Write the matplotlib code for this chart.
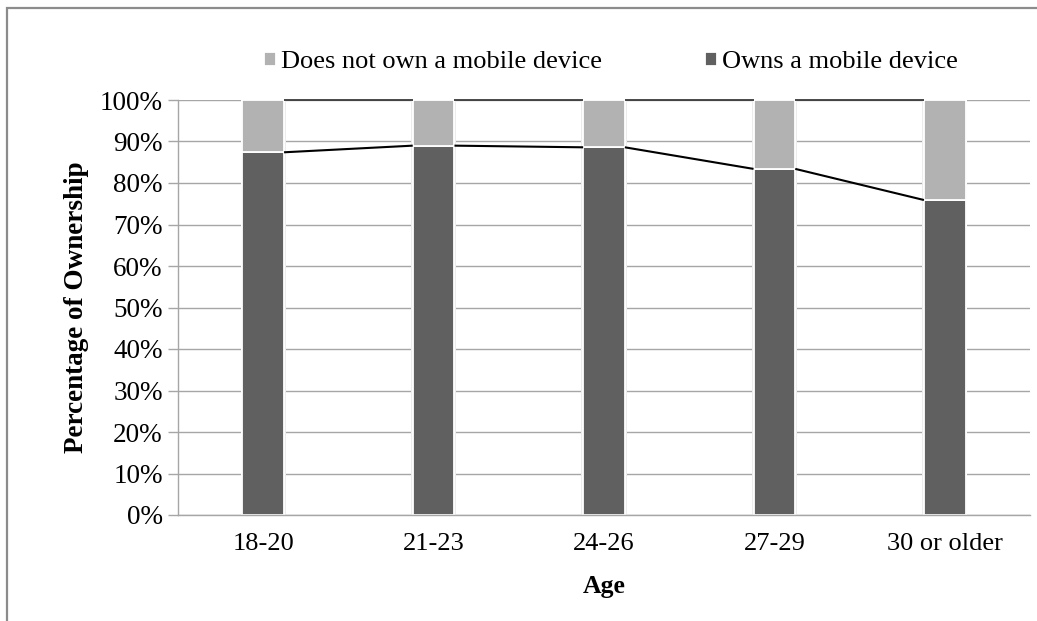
import matplotlib
matplotlib.use("Agg")
import matplotlib.pyplot as plt
from matplotlib.patches import Rectangle

# Survey data: share of respondents owning a mobile device, by age group
age_groups = ["18-20", "21-23", "24-26", "27-29", "30 or older"]
owns_pct = [87.4, 89.0, 88.6, 83.4, 75.9]
not_own_pct = [100 - v for v in owns_pct]
y_ticks = [0, 10, 20, 30, 40, 50, 60, 70, 80, 90, 100]

dark = "#606060"
light = "#b2b2b2"
grid_c = "#a6a6a6"
serif = ["Liberation Serif", "DejaVu Serif"]

fig = plt.figure(figsize=(10.37, 6.21), dpi=100)
fig.patch.set_facecolor("white")

# outer chart frame (runs off the right/bottom edges)
fig.patches.append(Rectangle((7 / 1037, -0.05), 1.2, 1 - 8 / 621 + 0.05,
                             transform=fig.transFigure, fill=False,
                             edgecolor="#8c8c8c", linewidth=1.6, zorder=0))

ax = fig.add_axes([178 / 1037, 1 - 515 / 621, (1030 - 178) / 1037, (515 - 100) / 621])
x = list(range(len(age_groups)))
width = 0.245

# faint halo behind each bar
ax.bar(x, [100] * len(x), width=width + 0.02, color="#ececec", zorder=1.5, linewidth=0)
ax.bar(x, owns_pct, width=width, color=dark, edgecolor="white", linewidth=1.3,
       zorder=2, label="Owns a mobile device")
ax.bar(x, not_own_pct, width=width, bottom=owns_pct, color=light, edgecolor="white",
       linewidth=1.3, zorder=2, label="Does not own a mobile device")

# series lines joining the stacked segments of neighbouring bars
half = width / 2
tops = [o + n for o, n in zip(owns_pct, not_own_pct)]
for i in range(len(x) - 1):
    ax.plot([x[i] + half, x[i + 1] - half], [owns_pct[i], owns_pct[i + 1]],
            color="black", linewidth=1.5, zorder=3, solid_capstyle="butt")
    ax.plot([x[i] + half, x[i + 1] - half], [tops[i], tops[i + 1]],
            color="#3a3a3a", linewidth=1.3, zorder=3, clip_on=False,
            solid_capstyle="butt")

ax.set_xlim(-0.5, len(x) - 0.5)
ax.set_ylim(0, 100)
ax.set_yticks(y_ticks)
ax.set_yticklabels([f"{t}%" for t in y_ticks], fontfamily=serif, fontsize=19.5)
ax.set_xticks(x)
ax.set_xticklabels(age_groups, fontfamily=serif, fontsize=19)
ax.yaxis.grid(True, color=grid_c, linewidth=1.0, zorder=0)
ax.set_axisbelow(True)
for side in ["top", "right"]:
    ax.spines[side].set_visible(False)
for side in ["left", "bottom"]:
    ax.spines[side].set_color(grid_c)
    ax.spines[side].set_linewidth(1.0)
ax.tick_params(axis="y", length=7, color=grid_c, width=1.0, pad=4)
ax.tick_params(axis="x", length=0, pad=13)

ax.set_ylabel("Percentage of Ownership", fontfamily=serif, fontsize=19.5,
              fontweight="bold", labelpad=8)
ax.set_xlabel("Age", fontfamily=serif, fontsize=18.5, fontweight="bold", labelpad=14)

handles, labels = ax.get_legend_handles_labels()
leg = fig.legend([handles[1], handles[0]], [labels[1], labels[0]],
                 loc="center", bbox_to_anchor=(611 / 1037, 1 - 62 / 621),
                 ncol=2, frameon=False, prop={"family": serif, "size": 19},
                 handlelength=0.45, handleheight=0.45, handletextpad=0.2,
                 columnspacing=3.9)

fig.savefig("out.png", dpi=100, facecolor="white")
